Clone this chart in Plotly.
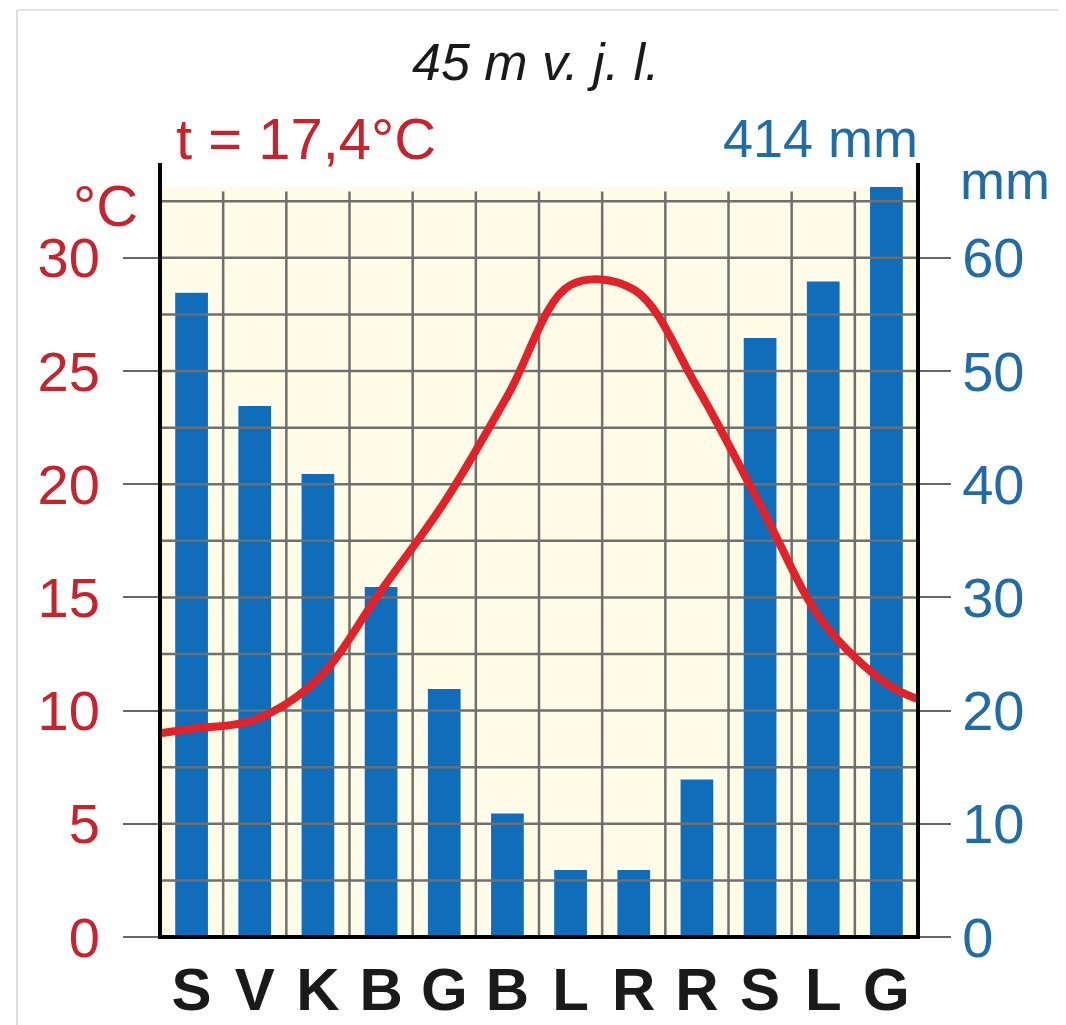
import numpy as np
import plotly.graph_objects as go

# ---------------- data ----------------
months = ["S", "V", "K", "B", "G", "B", "L", "R", "R", "S", "L", "G"]
precip_mm = [57, 47, 41, 31, 22, 11, 6, 6, 14, 53, 58, 68]
temp_c = [9.2, 9.6, 11.4, 15.3, 19.2, 23.9, 28.8, 28.6, 24.3, 19.1, 13.9, 11.2]
temp_start = 9.0   # value of the curve at the left edge of the chart
temp_end = 10.5    # value of the curve at the right edge of the chart
temp_ticks = [0, 5, 10, 15, 20, 25, 30]
precip_ticks = [0, 10, 20, 30, 40, 50, 60]
title_text = "45 m v. j. l."
temp_text = "t = 17,4°C"
precip_text = "414 mm"

# ---------------- styling / geometry ----------------
OFF = 8                      # page offset of the figure (body margin)
W, H = 1058, 1017
L, T = 160 - OFF, 187 - OFF
PW, PH = 758, 750
R = W - L - PW
B = H - T - PH
T_MAX = 33.13
P_MAX = 2 * T_MAX

RED_TXT = "#C8232C"
BLUE_TXT = "#1F6CA8"
BAR = "#0F6DB9"
LINE_RED = "#E2222B"
GRID = "#6f6f6f"
FONT = "Liberation Sans, Arial, sans-serif"


def px(xscreen):
    return (xscreen - OFF - L) / PW


def py(yscreen):
    return (T + PH - (yscreen - OFF)) / PH


n = len(months)
xs = np.arange(n)

fig = go.Figure()

# bars (main subplot, mm axis)
fig.add_trace(go.Bar(
    x=xs, y=precip_mm, yaxis="y", width=0.55,
    marker=dict(color=BAR, line=dict(color="white", width=2)),
    showlegend=False, hoverinfo="skip",
))

# grid lines drawn above the bars (overlay subplot)
gx, gy = [], []
for v in np.arange(2.5, T_MAX, 2.5):
    gx += [-0.5, n - 0.5, None]
    gy += [v, v, None]
for v in np.arange(0.5, n - 0.5, 1.0):
    gx += [v, v, None]
    gy += [0, T_MAX - 0.2, None]
fig.add_trace(go.Scatter(
    x=gx, y=gy, yaxis="y2", mode="lines",
    line=dict(color=GRID, width=2.5),
    showlegend=False, hoverinfo="skip",
))

# temperature curve
tx = [-0.5] + list(xs) + [n - 0.5]
ty = [temp_start] + temp_c + [temp_end]
fig.add_trace(go.Scatter(
    x=tx, y=ty, yaxis="y2", mode="lines",
    line=dict(color=LINE_RED, width=8, shape="spline", smoothing=1.0),
    showlegend=False, hoverinfo="skip",
))

fig.update_layout(
    width=W, height=H,
    margin=dict(l=L, r=R, t=T, b=B, pad=0, autoexpand=False),
    paper_bgcolor="white",
    plot_bgcolor="#FEFCE7",
    font=dict(family=FONT),
    xaxis=dict(
        range=[-0.5, n - 0.5], tickmode="array", tickvals=list(xs), ticktext=months,
        tickfont=dict(size=60, color="#1a1a1a", family=FONT, weight="bold"),
        ticks="", showgrid=False, zeroline=False, showline=False,
        ticklabelstandoff=12, fixedrange=True, automargin=False,
    ),
    yaxis=dict(
        side="right", range=[0, P_MAX], tickmode="array", tickvals=precip_ticks,
        tickfont=dict(size=56, color=BLUE_TXT), ticks="outside", ticklen=32,
        tickcolor="#666666", tickwidth=2, showgrid=False, zeroline=False,
        showline=False, ticklabelstandoff=0, automargin=False,
    ),
    yaxis2=dict(
        side="left", overlaying="y", range=[0, T_MAX], tickmode="array",
        tickvals=temp_ticks, tickfont=dict(size=56, color=RED_TXT),
        ticks="outside", ticklen=36, tickcolor="#666666", tickwidth=2,
        showgrid=False, zeroline=False, showline=False, ticklabelstandoff=12,
        automargin=False,
    ),
)

top_ext = py(163)
shapes = [
    dict(type="line", xref="paper", yref="paper", x0=0, x1=0, y0=0, y1=top_ext,
         line=dict(color="black", width=4)),
    dict(type="line", xref="paper", yref="paper", x0=1, x1=1, y0=0, y1=top_ext,
         line=dict(color="black", width=4)),
    dict(type="line", xref="paper", yref="paper", x0=px(158), x1=px(920), y0=0, y1=0,
         line=dict(color="black", width=4)),
    # faint outer frame (left and top edges)
    dict(type="line", xref="paper", yref="paper", x0=px(17), x1=px(17), y0=py(10), y1=py(1030),
         line=dict(color="#dcdcdc", width=2), layer="below"),
    dict(type="line", xref="paper", yref="paper", x0=px(17), x1=px(1066), y0=py(10), y1=py(10),
         line=dict(color="#e2e2e2", width=2), layer="below"),
]
fig.update_layout(shapes=shapes)

ann = [
    dict(text=title_text, x=px(536), y=py(62), xanchor="center", yanchor="middle",
         font=dict(size=52, color="#1a1a1a", style="italic")),
    dict(text=temp_text, x=px(174), y=py(139), xanchor="left", yanchor="middle",
         font=dict(size=58, color=RED_TXT)),
    dict(text=precip_text, x=px(920), y=py(138), xanchor="right", yanchor="middle",
         font=dict(size=54, color=BLUE_TXT)),
    dict(text="°C", x=px(140), y=py(205), xanchor="right", yanchor="middle",
         font=dict(size=58, color=RED_TXT)),
    dict(text="mm", x=px(958), y=py(180), xanchor="left", yanchor="middle",
         font=dict(size=54, color=BLUE_TXT)),
]
for a in ann:
    a.update(xref="paper", yref="paper", showarrow=False)
fig.update_layout(annotations=ann)

fig.write_html("out.html")
